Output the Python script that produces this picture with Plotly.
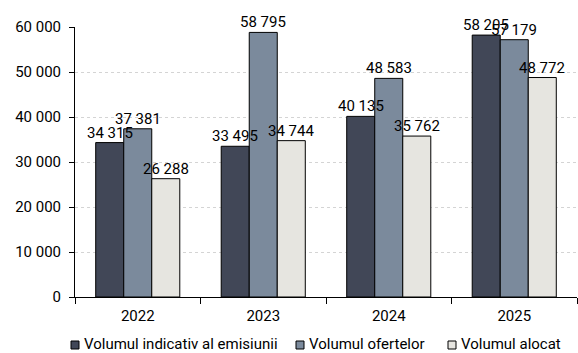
import plotly.graph_objects as go

years = ['2022', '2023', '2024', '2025']
indicativ = [34315, 33495, 40135, 58205]
oferte = [37381, 58795, 48583, 57179]
alocat = [26288, 34744, 35762, 48772]

series = [
    ('Volumul indicativ al emisiunii', indicativ, '#414757'),
    ('Volumul ofertelor', oferte, '#7b8a9c'),
    ('Volumul alocat', alocat, '#e6e5e0'),
]
yticks = [0, 10000, 20000, 30000, 40000, 50000, 60000]


def fmt(v):
    return f'{v:,}'.replace(',', ' ')


fig = go.Figure()
bar_px = 28  # width of one bar in pixels, for label offsets
for i, (name, vals, col) in enumerate(series):
    fig.add_trace(go.Bar(
        x=years, y=vals, name=name,
        marker=dict(color=col, line=dict(color='#000000', width=1)),
        showlegend=False,
    ))
    # value labels as annotations so they sit above neighbouring bars
    # (x is the category index: numeric-looking names are read as indices)
    for j, v in enumerate(vals):
        fig.add_annotation(x=j, y=v, text=fmt(v), showarrow=False,
                           xshift=(i - 1) * bar_px, yshift=-1,
                           yanchor='bottom', font=dict(size=15, color='#000000'))

# hand-made legend below the plot
leg_x = [-4, 221, 373]
for (name, vals, col), lx in zip(series, leg_x):
    fig.add_shape(type='rect', xref='paper', yref='paper',
                  xsizemode='pixel', ysizemode='pixel', xanchor=0, yanchor=0,
                  x0=lx, x1=lx + 8, y0=-52, y1=-44,
                  fillcolor=col, line=dict(color='#000000', width=1))
    fig.add_annotation(x=0, y=0, xref='paper', yref='paper', text=name,
                       showarrow=False, xanchor='left', yanchor='middle',
                       xshift=lx + 11, yshift=-47,
                       font=dict(size=15, color='#000000'))

fig.update_layout(
    width=578, height=353,
    margin=dict(l=75, r=1, t=27, b=56),
    paper_bgcolor='white', plot_bgcolor='white',
    font=dict(family='Roboto', size=15, color='#000000'),
    barmode='group', bargap=0.33, bargroupgap=0,
)
fig.update_xaxes(
    type='category', range=[-0.5, len(years) - 0.5],
    showline=True, linecolor='#000000', linewidth=1,
    ticks='outside', tickson='boundaries', ticklen=6, tickcolor='#000000',
    ticklabelstandoff=5,
    showgrid=False, automargin=False,
)
fig.update_yaxes(
    range=[0, 60000],
    tickvals=yticks, ticktext=[fmt(v) for v in yticks],
    showline=True, linecolor='#000000', linewidth=1,
    ticks='outside', ticklen=5, tickcolor='#000000',
    ticklabelstandoff=5,
    showgrid=True, gridcolor='#d4d4d4', griddash='dot', gridwidth=1,
    zeroline=False, automargin=False,
)

# drop the browser's default 8px body margin so the figure fills the window
fig.write_html('out.html', config={'displayModeBar': False},
               post_script="document.body.style.margin='0';")
